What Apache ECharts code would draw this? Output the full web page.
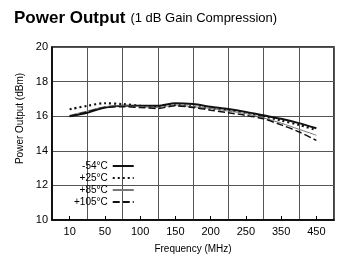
<!DOCTYPE html>
<html>
<head>
<meta charset="utf-8">
<script src="https://cdn.jsdelivr.net/npm/echarts@6/dist/echarts.min.js"></script>
<style>
  html, body { margin: 0; padding: 0; background: #fff; }
  #chart { width: 342px; height: 259px; }
</style>
</head>
<body>
<div id="chart"></div>
<script>
// tick labels on the frequency axis (MHz), evenly spaced bands
const freqTicks = [10, 50, 100, 150, 200, 250, 350, 450];

// sampled frequencies (MHz)
const freqs = [10, 30, 50, 75, 100, 125, 150, 175, 200, 225, 250, 300, 350, 400, 450];

// power output (dBm) per temperature
const minus54 = [16.0, 16.2, 16.5, 16.6, 16.6, 16.6, 16.75, 16.7, 16.55, 16.42, 16.25, 16.05, 15.85, 15.6, 15.3];
const plus25 = [16.4, 16.6, 16.75, 16.7, 16.6, 16.55, 16.65, 16.55, 16.45, 16.35, 16.2, 16.0, 15.75, 15.5, 15.2];
const plus85 = [16.05, 16.3, 16.55, 16.6, 16.55, 16.5, 16.65, 16.55, 16.45, 16.3, 16.15, 15.9, 15.6, 15.25, 14.9];
const plus105 = [16.0, 16.25, 16.5, 16.55, 16.5, 16.45, 16.6, 16.5, 16.35, 16.2, 16.05, 15.85, 15.5, 15.1, 14.6];

const yTicks = [10, 12, 14, 16, 18, 20];

// frequency -> band index on the (non-linear) printed axis
const freqToPos = (f) => {
  for (let i = 0; i < freqTicks.length - 1; i++) {
    if (f <= freqTicks[i + 1]) {
      return i + (f - freqTicks[i]) / (freqTicks[i + 1] - freqTicks[i]);
    }
  }
  return freqTicks.length - 1;
};

const pairs = (vals) => freqs.map((f, i) => [freqToPos(f), vals[i]]);

const font = 'Liberation Sans, Arial, sans-serif';

const makeSeries = (name, vals, lineStyle) => ({
  name,
  type: 'line',
  xAxisIndex: 1,
  smooth: 0.3,
  symbol: 'none',
  data: pairs(vals),
  lineStyle,
  itemStyle: { color: lineStyle.color },
});

const chart = echarts.init(document.getElementById('chart'), null, { renderer: 'canvas' });

chart.setOption({
  animation: false,
  backgroundColor: '#fff',
  title: {
    left: 14,
    top: 9,
    padding: 0,
    text: '{b|Power Output} {n|(1 dB Gain Compression)}',
    textStyle: {
      fontWeight: 'normal',
      rich: {
        b: { fontFamily: font, fontWeight: 'bold', fontSize: 17, color: '#000' },
        n: { fontFamily: font, fontWeight: 'normal', fontSize: 13, color: '#000' },
      },
    },
  },
  legend: {
    orient: 'vertical',
    align: 'right',
    left: 74,
    top: 161,
    padding: 0,
    itemWidth: 21,
    itemHeight: 10,
    itemGap: 2,
    itemStyle: { opacity: 0 },
    textStyle: { fontFamily: font, fontSize: 10, color: '#000' },
    data: ['-54°C', '+25°C', '+85°C', '+105°C'],
  },
  grid: {
    left: 52,
    right: 8,
    top: 47,
    bottom: 35,
    show: true,
    borderColor: '#000',
    borderWidth: 1.5,
  },
  xAxis: [
    {
      type: 'category',
      data: freqTicks.map(String),
      boundaryGap: true,
      name: 'Frequency (MHz)',
      nameLocation: 'middle',
      nameGap: 24,
      nameTextStyle: { fontFamily: font, fontSize: 10, color: '#000' },
      axisLine: { onZero: false, lineStyle: { color: '#000', width: 1.5 } },
      axisTick: { show: true, alignWithLabel: true, inside: true, length: 4, lineStyle: { color: '#000' } },
      axisLabel: { fontFamily: font, fontSize: 11, color: '#000', margin: 6 },
      splitLine: { show: true, lineStyle: { color: '#555', width: 1 } },
    },
    {
      type: 'value',
      min: -0.5,
      max: freqTicks.length - 0.5,
      show: false,
    },
  ],
  yAxis: {
    type: 'value',
    min: yTicks[0],
    max: yTicks[yTicks.length - 1],
    interval: 2,
    name: 'Power Output (dBm)',
    nameLocation: 'middle',
    nameGap: 26,
    nameTextStyle: { fontFamily: font, fontSize: 10, color: '#000', padding: [0, 0, 0, 30] },
    axisLine: { show: true, onZero: false, lineStyle: { color: '#000', width: 1.5 } },
    axisTick: { show: false },
    axisLabel: { fontFamily: font, fontSize: 11, color: '#000', margin: 4 },
    splitLine: { show: true, lineStyle: { color: '#555', width: 1 } },
  },
  series: [
    makeSeries('-54°C', minus54, { color: '#111', width: 2, type: 'solid' }),
    makeSeries('+25°C', plus25, { color: '#111', width: 2.2, type: [2, 3] }),
    makeSeries('+85°C', plus85, { color: '#777', width: 1, type: 'solid' }),
    makeSeries('+105°C', plus105, { color: '#111', width: 1.5, type: [7, 3] }),
  ],
});
</script>
</body>
</html>
